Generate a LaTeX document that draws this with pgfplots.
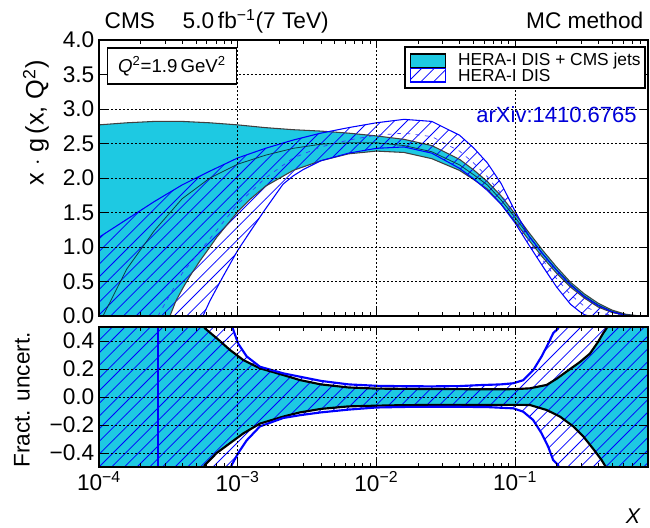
\documentclass[border=0pt]{standalone}
\usepackage{fontspec}
\setmainfont{Liberation Sans}
\usepackage{pgfplots}
\pgfplotsset{compat=1.18}
\usetikzlibrary{patterns}
\definecolor{cmscyan}{RGB}{30,201,226}
\definecolor{hblue}{RGB}{0,0,255}
\newcommand{\fs}[1]{\fontsize{#1}{#1}\selectfont}
\pgfdeclarepatternformonly{myhatch}{\pgfqpoint{-1pt}{-1pt}}{\pgfqpoint{10.5pt}{10.5pt}}{\pgfqpoint{9.5pt}{9.5pt}}{%
  \pgfsetlinewidth{0.6pt}%
  \pgfpathmoveto{\pgfqpoint{0pt}{0pt}}%
  \pgfpathlineto{\pgfqpoint{9.6pt}{9.6pt}}%
  \pgfusepath{stroke}}
\tikzset{hatch/.style={pattern=myhatch, pattern color=hblue}}
\begin{document}
\begin{tikzpicture}
\path[use as bounding box] (0,0) rectangle (487.5pt,396pt);
% ---------------- top panel ----------------
\begin{axis}[scale only axis, width=411.75pt, height=207pt,
  at={(74.25pt,159pt)}, anchor=south west,
  xmode=log, xmin=1e-4, xmax=0.91, ymin=0, ymax=4,
  axis on top, axis line style={line width=1.8pt}, tick align=inside,
  major tick length=6pt, minor tick length=3pt,
  tick style={black, line width=0.6pt},
  xtick={1e-4,1e-3,1e-2,1e-1},
  minor xtick={2e-4,3e-4,4e-4,5e-4,6e-4,7e-4,8e-4,9e-4,2e-3,3e-3,4e-3,5e-3,6e-3,7e-3,8e-3,9e-3,2e-2,3e-2,4e-2,5e-2,6e-2,7e-2,8e-2,9e-2,0.2,0.3,0.4,0.5,0.6,0.7,0.8,0.9},
  grid=major, major grid style={black, line width=0.6pt, dash pattern=on 1.2pt off 1.8pt},
  ticklabel style={font=\fs{17}},
  ytick={0,0.5,1,1.5,2,2.5,3,3.5,4},
  yticklabels={0.0,0.5,1.0,1.5,2.0,2.5,3.0,3.5,4.0}, xticklabels={},
]
\addplot[fill=cmscyan, draw=none] coordinates {
(1e-4,2.77) (1.585e-4,2.80) (2.512e-4,2.82) (3.981e-4,2.82) (6.31e-4,2.80) (1e-3,2.77) (1.585e-3,2.73) (2.512e-3,2.70) (3.981e-3,2.68) (6.31e-3,2.65) (1e-2,2.61) (1.585e-2,2.56) (2.512e-2,2.47) (3.981e-2,2.27) (5.012e-2,2.12) (6.31e-2,1.95) (7.943e-2,1.74) (0.1,1.48) (0.1259,1.21) (0.1585,0.95) (0.1995,0.71) (0.2512,0.49) (0.3162,0.32) (0.3981,0.185) (0.5012,0.085) (0.631,0.025) (0.7943,0) (0.91,0)
(0.91,0) (0.7943,0) (0.631,0.01) (0.5012,0.05) (0.3981,0.13) (0.3162,0.26) (0.2512,0.42) (0.1995,0.62) (0.1585,0.85) (0.1259,1.10) (0.1,1.37) (7.943e-2,1.62) (6.31e-2,1.84) (5.012e-2,1.98) (3.981e-2,2.11) (2.512e-2,2.28) (1.585e-2,2.37) (1e-2,2.39) (6.31e-3,2.35) (3.981e-3,2.25) (2.512e-3,2.11) (1.585e-3,1.88) (1.227e-3,1.69) (1e-3,1.51) (7.06e-4,1.14) (6.31e-4,1.0) (5.35e-4,0.80) (4.53e-4,0.58) (4.04e-4,0.41) (3.59e-4,0.22) (3.25e-4,0) (1e-4,0)
};
\addplot[hatch, draw=none] coordinates {
(1e-4,1.14) (1.585e-4,1.40) (2.512e-4,1.66) (3.981e-4,1.90) (6.31e-4,2.10) (1e-3,2.29) (1.585e-3,2.43) (2.512e-3,2.55) (3.981e-3,2.65) (6.31e-3,2.73) (1e-2,2.80) (1.585e-2,2.85) (2.512e-2,2.82) (3.981e-2,2.62) (5.012e-2,2.44) (6.31e-2,2.22) (7.943e-2,1.92) (0.1,1.52) (0.1259,1.16) (0.1585,0.90) (0.1995,0.66) (0.2512,0.45) (0.3162,0.28) (0.3981,0.15) (0.5012,0.06) (0.631,0.01) (0.7943,0) (0.91,0)
(0.91,0) (0.341,0) (0.3162,0.02) (0.2944,0.06) (0.2512,0.17) (0.1995,0.42) (0.1585,0.72) (0.1259,1.03) (0.1,1.35) (7.943e-2,1.62) (6.31e-2,1.82) (5.012e-2,1.99) (3.981e-2,2.14) (2.512e-2,2.36) (1.585e-2,2.45) (1e-2,2.43) (6.31e-3,2.36) (3.981e-3,2.25) (2.958e-3,2.12) (2.512e-3,2.03) (2.123e-3,1.91) (1.585e-3,1.55) (1.227e-3,1.22) (1e-3,0.95) (7.83e-4,0.57) (6.31e-4,0.22) (5.62e-4,0) (1e-4,0)
};
\addplot[black!75, line width=0.8pt] coordinates {
(1e-4,2.77) (1.585e-4,2.80) (2.512e-4,2.82) (3.981e-4,2.82) (6.31e-4,2.80) (1e-3,2.77) (1.585e-3,2.73) (2.512e-3,2.70) (3.981e-3,2.68) (6.31e-3,2.65) (1e-2,2.61) (1.585e-2,2.56) (2.512e-2,2.47) (3.981e-2,2.27) (5.012e-2,2.12) (6.31e-2,1.95) (7.943e-2,1.74) (0.1,1.48) (0.1259,1.21) (0.1585,0.95) (0.1995,0.71) (0.2512,0.49) (0.3162,0.32) (0.3981,0.185) (0.5012,0.085) (0.631,0.025) (0.7943,0)};
\addplot[black!75, line width=0.8pt] coordinates {
(0.7943,0) (0.631,0.01) (0.5012,0.05) (0.3981,0.13) (0.3162,0.26) (0.2512,0.42) (0.1995,0.62) (0.1585,0.85) (0.1259,1.10) (0.1,1.37) (7.943e-2,1.62) (6.31e-2,1.84) (5.012e-2,1.98) (3.981e-2,2.11) (2.512e-2,2.28) (1.585e-2,2.37) (1e-2,2.39) (6.31e-3,2.35) (3.981e-3,2.25) (2.512e-3,2.11) (1.585e-3,1.88) (1.227e-3,1.69) (1e-3,1.51) (7.06e-4,1.14) (6.31e-4,1.0) (5.35e-4,0.80) (4.53e-4,0.58) (4.04e-4,0.41) (3.59e-4,0.22) (3.25e-4,0)};
\addplot[black!70!cmscyan, line width=0.6pt] coordinates {
(1e-4,-0.1) (1.069e-4,0) (1.585e-4,0.68) (2.512e-4,1.24) (3.981e-4,1.70) (6.31e-4,2.00) (1e-3,2.20) (1.585e-3,2.33) (2.512e-3,2.43) (3.981e-3,2.49) (6.31e-3,2.51) (1e-2,2.51) (1.585e-2,2.47) (2.512e-2,2.38) (3.981e-2,2.19) (5.012e-2,2.05) (6.31e-2,1.90) (7.943e-2,1.68) (0.1,1.43) (0.1259,1.16) (0.1585,0.90) (0.1995,0.67) (0.2512,0.46) (0.3162,0.29) (0.3981,0.16) (0.5012,0.067) (0.631,0.017) (0.7943,0)};
\addplot[hblue, line width=0.8pt] coordinates {
(1e-4,1.14) (1.585e-4,1.40) (2.512e-4,1.66) (3.981e-4,1.90) (6.31e-4,2.10) (1e-3,2.29) (1.585e-3,2.43) (2.512e-3,2.55) (3.981e-3,2.65) (6.31e-3,2.73) (1e-2,2.80) (1.585e-2,2.85) (2.512e-2,2.82) (3.981e-2,2.62) (5.012e-2,2.44) (6.31e-2,2.22) (7.943e-2,1.92) (0.1,1.52) (0.1259,1.16) (0.1585,0.90) (0.1995,0.66) (0.2512,0.45) (0.3162,0.28) (0.3981,0.15) (0.5012,0.06) (0.631,0.01) (0.7943,0)};
\addplot[hblue, line width=0.8pt] coordinates {
(0.341,0) (0.3162,0.02) (0.2944,0.06) (0.2512,0.17) (0.1995,0.42) (0.1585,0.72) (0.1259,1.03) (0.1,1.35) (7.943e-2,1.62) (6.31e-2,1.82) (5.012e-2,1.99) (3.981e-2,2.14) (2.512e-2,2.36) (1.585e-2,2.45) (1e-2,2.43) (6.31e-3,2.36) (3.981e-3,2.25) (2.958e-3,2.12) (2.512e-3,2.03) (2.123e-3,1.91) (1.585e-3,1.55) (1.227e-3,1.22) (1e-3,0.95) (7.83e-4,0.57) (6.31e-4,0.22) (5.62e-4,0)};
\addplot[hblue!80, line width=0.5pt, dash pattern=on 3pt off 4pt] coordinates {
(2.662e-4,0) (3.981e-4,0.62) (6.31e-4,1.12) (1e-3,1.62) (1.585e-3,2.00) (2.512e-3,2.29) (3.981e-3,2.45) (6.31e-3,2.55) (1e-2,2.62) (1.585e-2,2.65) (2.512e-2,2.60) (3.981e-2,2.39) (5.012e-2,2.22) (6.31e-2,2.02) (7.943e-2,1.77) (0.1,1.43) (0.1259,1.09) (0.1585,0.81) (0.1995,0.54) (0.2512,0.31) (0.3162,0.14) (0.3981,0.05) (0.5012,0.01) (0.631,0)};
\end{axis}
% ---------------- bottom panel ----------------
\begin{axis}[scale only axis, width=411.75pt, height=105pt,
  at={(74.25pt,45.75pt)}, anchor=south west,
  xmode=log, xmin=1e-4, xmax=0.91, ymin=-0.5, ymax=0.5,
  axis on top, axis line style={line width=1.8pt}, tick align=inside,
  major tick length=6pt, minor tick length=3pt,
  tick style={black, line width=0.6pt},
  xtick={1e-4,1e-3,1e-2,1e-1},
  minor xtick={2e-4,3e-4,4e-4,5e-4,6e-4,7e-4,8e-4,9e-4,2e-3,3e-3,4e-3,5e-3,6e-3,7e-3,8e-3,9e-3,2e-2,3e-2,4e-2,5e-2,6e-2,7e-2,8e-2,9e-2,0.2,0.3,0.4,0.5,0.6,0.7,0.8,0.9},
  grid=major, major grid style={black, line width=0.6pt, dash pattern=on 1.2pt off 1.8pt},
  ticklabel style={font=\fs{17}},
  ytick={-0.4,-0.2,0,0.2,0.4},
  yticklabels={−0.4,−0.2,0.0,0.2,0.4},
  xticklabels={10\textsuperscript{−4},10\textsuperscript{−3},10\textsuperscript{−2},10\textsuperscript{−1}},
]
\addplot[fill=cmscyan, draw=none] coordinates {
(1e-4,0.7) (5.0e-4,0.7) (5.35e-4,0.57) (5.81e-4,0.49) (7.06e-4,0.42) (8.80e-4,0.336) (1.098e-3,0.264) (1.448e-3,0.205) (2.132e-3,0.157) (2.812e-3,0.121) (3.981e-3,0.09) (6.31e-3,0.068) (1e-2,0.06) (1.585e-2,0.058) (2.512e-2,0.057) (3.981e-2,0.056) (6.31e-2,0.055) (0.1,0.056) (0.128,0.062) (0.169,0.086) (0.1995,0.13) (0.242,0.19) (0.294,0.25) (0.347,0.31) (0.398,0.395) (0.432,0.455) (0.457,0.49) (0.47,0.53) (0.5,0.7) (0.91,0.7)
(0.91,-0.7) (0.5,-0.7) (0.47,-0.53) (0.452,-0.50) (0.421,-0.45) (0.366,-0.37) (0.310,-0.28) (0.263,-0.21) (0.211,-0.14) (0.169,-0.093) (0.128,-0.057) (0.1,-0.056) (6.31e-2,-0.056) (3.981e-2,-0.056) (2.512e-2,-0.057) (1.585e-2,-0.058) (1e-2,-0.062) (6.31e-3,-0.067) (3.981e-3,-0.085) (2.812e-3,-0.11) (2.132e-3,-0.14) (1.448e-3,-0.19) (1.098e-3,-0.26) (8.80e-4,-0.33) (7.06e-4,-0.40) (5.81e-4,-0.486) (5.5e-4,-0.53) (5.0e-4,-0.7) (1e-4,-0.7)
};
\addplot[hatch, draw=none] coordinates {
(1e-4,0.7) (8.5e-4,0.7) (8.9e-4,0.53) (9.29e-4,0.48) (1.01e-3,0.38) (1.161e-3,0.29) (1.448e-3,0.216) (2.132e-3,0.169) (2.812e-3,0.145) (3.981e-3,0.115) (6.31e-3,0.09) (1e-2,0.08) (1.585e-2,0.077) (2.512e-2,0.076) (3.981e-2,0.078) (5.58e-2,0.085) (7.9e-2,0.09) (0.097,0.098) (0.1146,0.12) (0.135,0.19) (0.1556,0.29) (0.1734,0.38) (0.1884,0.455) (0.2047,0.49) (0.21,0.53) (0.22,0.7) (0.91,0.7)
(0.91,-0.7) (0.22,-0.7) (0.21,-0.53) (0.2047,-0.486) (0.1884,-0.45) (0.1734,-0.355) (0.1556,-0.26) (0.135,-0.164) (0.1146,-0.105) (0.097,-0.081) (6.31e-2,-0.072) (3.981e-2,-0.07) (2.512e-2,-0.07) (1.585e-2,-0.071) (1e-2,-0.075) (6.31e-3,-0.09) (3.981e-3,-0.11) (2.812e-3,-0.13) (2.132e-3,-0.15) (1.448e-3,-0.21) (1.161e-3,-0.31) (1.01e-3,-0.40) (9.05e-4,-0.486) (8.8e-4,-0.53) (8.5e-4,-0.7) (1e-4,-0.7)
};
\addplot[black, line width=1.6pt] coordinates {
(5.35e-4,0.57) (5.81e-4,0.49) (7.06e-4,0.42) (8.80e-4,0.336) (1.098e-3,0.264) (1.448e-3,0.205) (2.132e-3,0.157) (2.812e-3,0.121) (3.981e-3,0.09) (6.31e-3,0.068) (1e-2,0.06) (1.585e-2,0.058) (2.512e-2,0.057) (3.981e-2,0.056) (6.31e-2,0.055) (0.1,0.056) (0.128,0.062) (0.169,0.086) (0.1995,0.13) (0.242,0.19) (0.294,0.25) (0.347,0.31) (0.398,0.395) (0.432,0.455) (0.457,0.49) (0.47,0.53)};
\addplot[black, line width=1.6pt] coordinates {
(0.47,-0.53) (0.452,-0.50) (0.421,-0.45) (0.366,-0.37) (0.310,-0.28) (0.263,-0.21) (0.211,-0.14) (0.169,-0.093) (0.128,-0.057) (0.1,-0.056) (6.31e-2,-0.056) (3.981e-2,-0.056) (2.512e-2,-0.057) (1.585e-2,-0.058) (1e-2,-0.062) (6.31e-3,-0.067) (3.981e-3,-0.085) (2.812e-3,-0.11) (2.132e-3,-0.14) (1.448e-3,-0.19) (1.098e-3,-0.26) (8.80e-4,-0.33) (7.06e-4,-0.40) (5.81e-4,-0.486) (5.5e-4,-0.53)};
\addplot[hblue, line width=1.6pt] coordinates {
(8.9e-4,0.53) (9.29e-4,0.48) (1.01e-3,0.38) (1.161e-3,0.29) (1.448e-3,0.216) (2.132e-3,0.169) (2.812e-3,0.145) (3.981e-3,0.115) (6.31e-3,0.09) (1e-2,0.08) (1.585e-2,0.077) (2.512e-2,0.076) (3.981e-2,0.078) (5.58e-2,0.085) (7.9e-2,0.09) (0.097,0.098) (0.1146,0.12) (0.135,0.19) (0.1556,0.29) (0.1734,0.38) (0.1884,0.455) (0.2047,0.49) (0.21,0.53)};
\addplot[hblue, line width=1.6pt] coordinates {
(0.21,-0.53) (0.2047,-0.486) (0.1884,-0.45) (0.1734,-0.355) (0.1556,-0.26) (0.135,-0.164) (0.1146,-0.105) (0.097,-0.081) (6.31e-2,-0.072) (3.981e-2,-0.07) (2.512e-2,-0.07) (1.585e-2,-0.071) (1e-2,-0.075) (6.31e-3,-0.09) (3.981e-3,-0.11) (2.812e-3,-0.13) (2.132e-3,-0.15) (1.448e-3,-0.21) (1.161e-3,-0.31) (1.01e-3,-0.40) (9.05e-4,-0.486) (8.8e-4,-0.53)};
\addplot[hblue, line width=1.2pt] coordinates {(2.662e-4,-0.6) (2.662e-4,0.6)};
\end{axis}
% ---------------- texts and legend ----------------
\node[anchor=base west, font=\fs{17}] at (75pt,374.25pt) {CMS};
\node[anchor=base west, font=\fs{17}] at (133.5pt,374.25pt) {5.0\,fb\textsuperscript{−1}(7 TeV)};
\node[anchor=base east, font=\fs{17}] at (486pt,374.25pt) {MC method};
\node[draw=black, line width=0.8pt, fill=white, font=\fs{14}, minimum width=97pt, minimum height=27pt] at (129pt,346.5pt) {\textit{Q}\textsuperscript{2}=1.9\,GeV\textsuperscript{2}};
\draw[black, line width=0.8pt, fill=white] (303.75pt,330pt) rectangle (483.75pt,360.75pt);
\draw[black, line width=0.8pt, fill=cmscyan] (308pt,345.5pt) rectangle (334pt,355.5pt);
\draw[hblue, line width=0.8pt, hatch] (308pt,334.5pt) rectangle (334pt,344.5pt);
\node[anchor=west, font=\fs{13}] at (340pt,350.5pt) {HERA-I DIS + CMS jets};
\node[anchor=west, font=\fs{13}] at (340pt,339.5pt) {HERA-I DIS};
\node[anchor=base east, font=\fs{16.5}, text=hblue!85!black] at (481pt,303.75pt) {arXiv:1410.6765};
\node[rotate=90, font=\fs{19}] at (27pt,303.75pt) {x $\cdot$ g\,(x, Q\textsuperscript{2})};
\node[rotate=90, font=\fs{17}] at (16.5pt,96pt) {Fract. uncert.};
\node[anchor=south, inner sep=0pt, font=\fs{16}] at (475pt,3pt) {\textit{X}};
\end{tikzpicture}
\end{document}
